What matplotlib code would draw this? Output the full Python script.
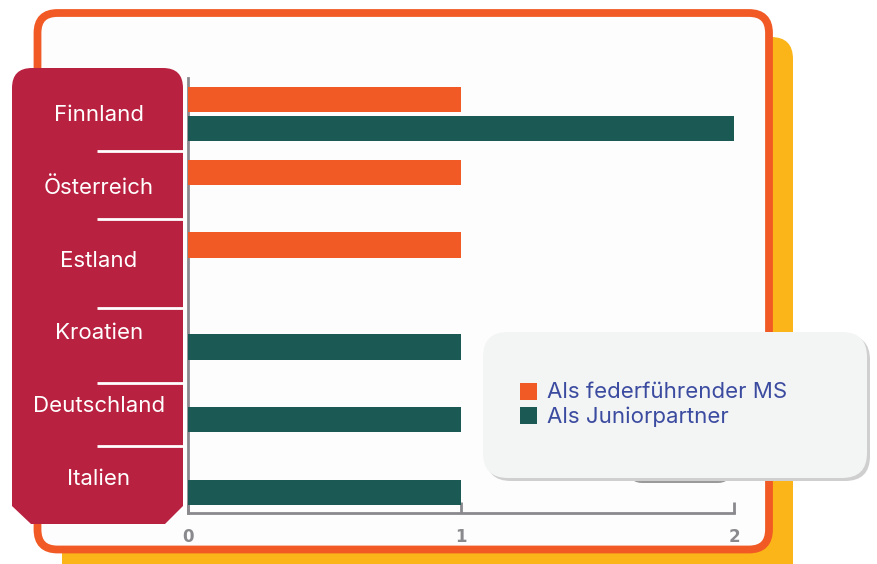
import numpy as np
import matplotlib
matplotlib.use("Agg")
import matplotlib.pyplot as plt
from matplotlib.patches import FancyBboxPatch, Polygon, Rectangle

plt.rcParams["font.family"] = ["Inter", "DejaVu Sans"]

countries = ["Finnland", "Österreich", "Estland", "Kroatien", "Deutschland", "Italien"]
lead = [1, 1, 1, 0, 0, 0]       # Als federführender MS
junior = [2, 0, 0, 1, 1, 1]     # Als Juniorpartner
legend_labels = ["Als federführender MS", "Als Juniorpartner"]
xticks = [0, 1, 2]

ORANGE = "#F15A24"
TEAL = "#1B5954"
CRIMSON = "#B92140"
YELLOW = "#FBB519"
BLUE = "#3B4BA0"
GRAY = "#8A8A8E"

W, H = 877, 564
fig = plt.figure(figsize=(W / 100, H / 100), dpi=100)
fig.patch.set_facecolor("white")

# background decoration in pixel coords (y down)
bg = fig.add_axes([0, 0, 1, 1], zorder=0)
bg.set_xlim(0, W); bg.set_ylim(H, 0); bg.axis("off")
bg.add_patch(FancyBboxPatch((62, 37), 731, 560, boxstyle="round,pad=0,rounding_size=22",
                            fc=YELLOW, ec="none"))
bg.add_patch(FancyBboxPatch((37.5, 13), 731.5, 536.5, boxstyle="round,pad=0,rounding_size=20",
                            fc="#FDFDFD", ec=ORANGE, lw=5.6))
# crimson label panel: rounded top, chamfered bottom
bg.add_patch(FancyBboxPatch((12, 68), 171, 60, boxstyle="round,pad=0,rounding_size=20",
                            fc=CRIMSON, ec="none"))
bg.add_patch(Polygon([(12, 100), (183, 100), (183, 506), (165, 524), (31, 524), (12, 506)],
                     closed=True, fc=CRIMSON, ec="none"))
for ys in [151, 219, 308, 383, 446]:
    bg.plot([97, 183], [ys, ys], color="white", lw=2, solid_capstyle="butt")

# main chart axes: x 188..734 px, y 78..513 px
x0, x1, y0, y1 = 188, 734, 78, 513
ax = fig.add_axes([x0 / W, 1 - y1 / H, (x1 - x0) / W, (y1 - y0) / H], zorder=2)
ax.patch.set_alpha(0)
step = 72.8
ax.set_xlim(0, 2)
ax.set_ylim((y1 - 114) / step, (y0 - 114) / step)
pos = np.arange(len(countries))
bh, off = 0.345, 0.2
ax.barh(pos - off, lead, height=bh, color=ORANGE, zorder=3)
ax.barh(pos + off, junior, height=bh, color=TEAL, zorder=3)
for s in ["top", "right"]:
    ax.spines[s].set_visible(False)
for s in ["left", "bottom"]:
    ax.spines[s].set_color(GRAY)
    ax.spines[s].set_linewidth(2)
ax.set_yticks([])
ax.set_xticks(xticks)
ax.set_xticklabels([str(t) for t in xticks], color=GRAY, fontsize=12, fontweight="bold",
                   family=["DejaVu Sans"])
ax.tick_params(axis="x", direction="in", length=8, width=2, color=GRAY, pad=11)

# country labels on crimson panel
for i, c in enumerate(countries):
    bg.text(99, 115 + i * step, c, color="white", fontsize=16, ha="center", va="center")

# legend box overlay
ov = fig.add_axes([0, 0, 1, 1], zorder=4)
ov.set_xlim(0, W); ov.set_ylim(H, 0); ov.axis("off")
ov.add_patch(FancyBboxPatch((630, 440), 100, 43, boxstyle="round,pad=0,rounding_size=12",
                            fc="#9A9A9A", ec="none"))
ov.add_patch(FancyBboxPatch((486, 335), 384, 146, boxstyle="round,pad=0,rounding_size=25",
                            fc="#CFCFCF", ec="none"))
ov.add_patch(FancyBboxPatch((483, 332), 384, 146, boxstyle="round,pad=0,rounding_size=25",
                            fc="#F3F4F4", ec="none"))
for j, (lab, col) in enumerate(zip(legend_labels, [ORANGE, TEAL])):
    yc = 391.5 + j * 24
    ov.add_patch(Rectangle((520, yc - 8.5), 17, 17, fc=col, ec="none"))
    ov.text(547, yc + 1, lab, color=BLUE, fontsize=16, ha="left", va="center")

fig.savefig("out.png", dpi=100)
